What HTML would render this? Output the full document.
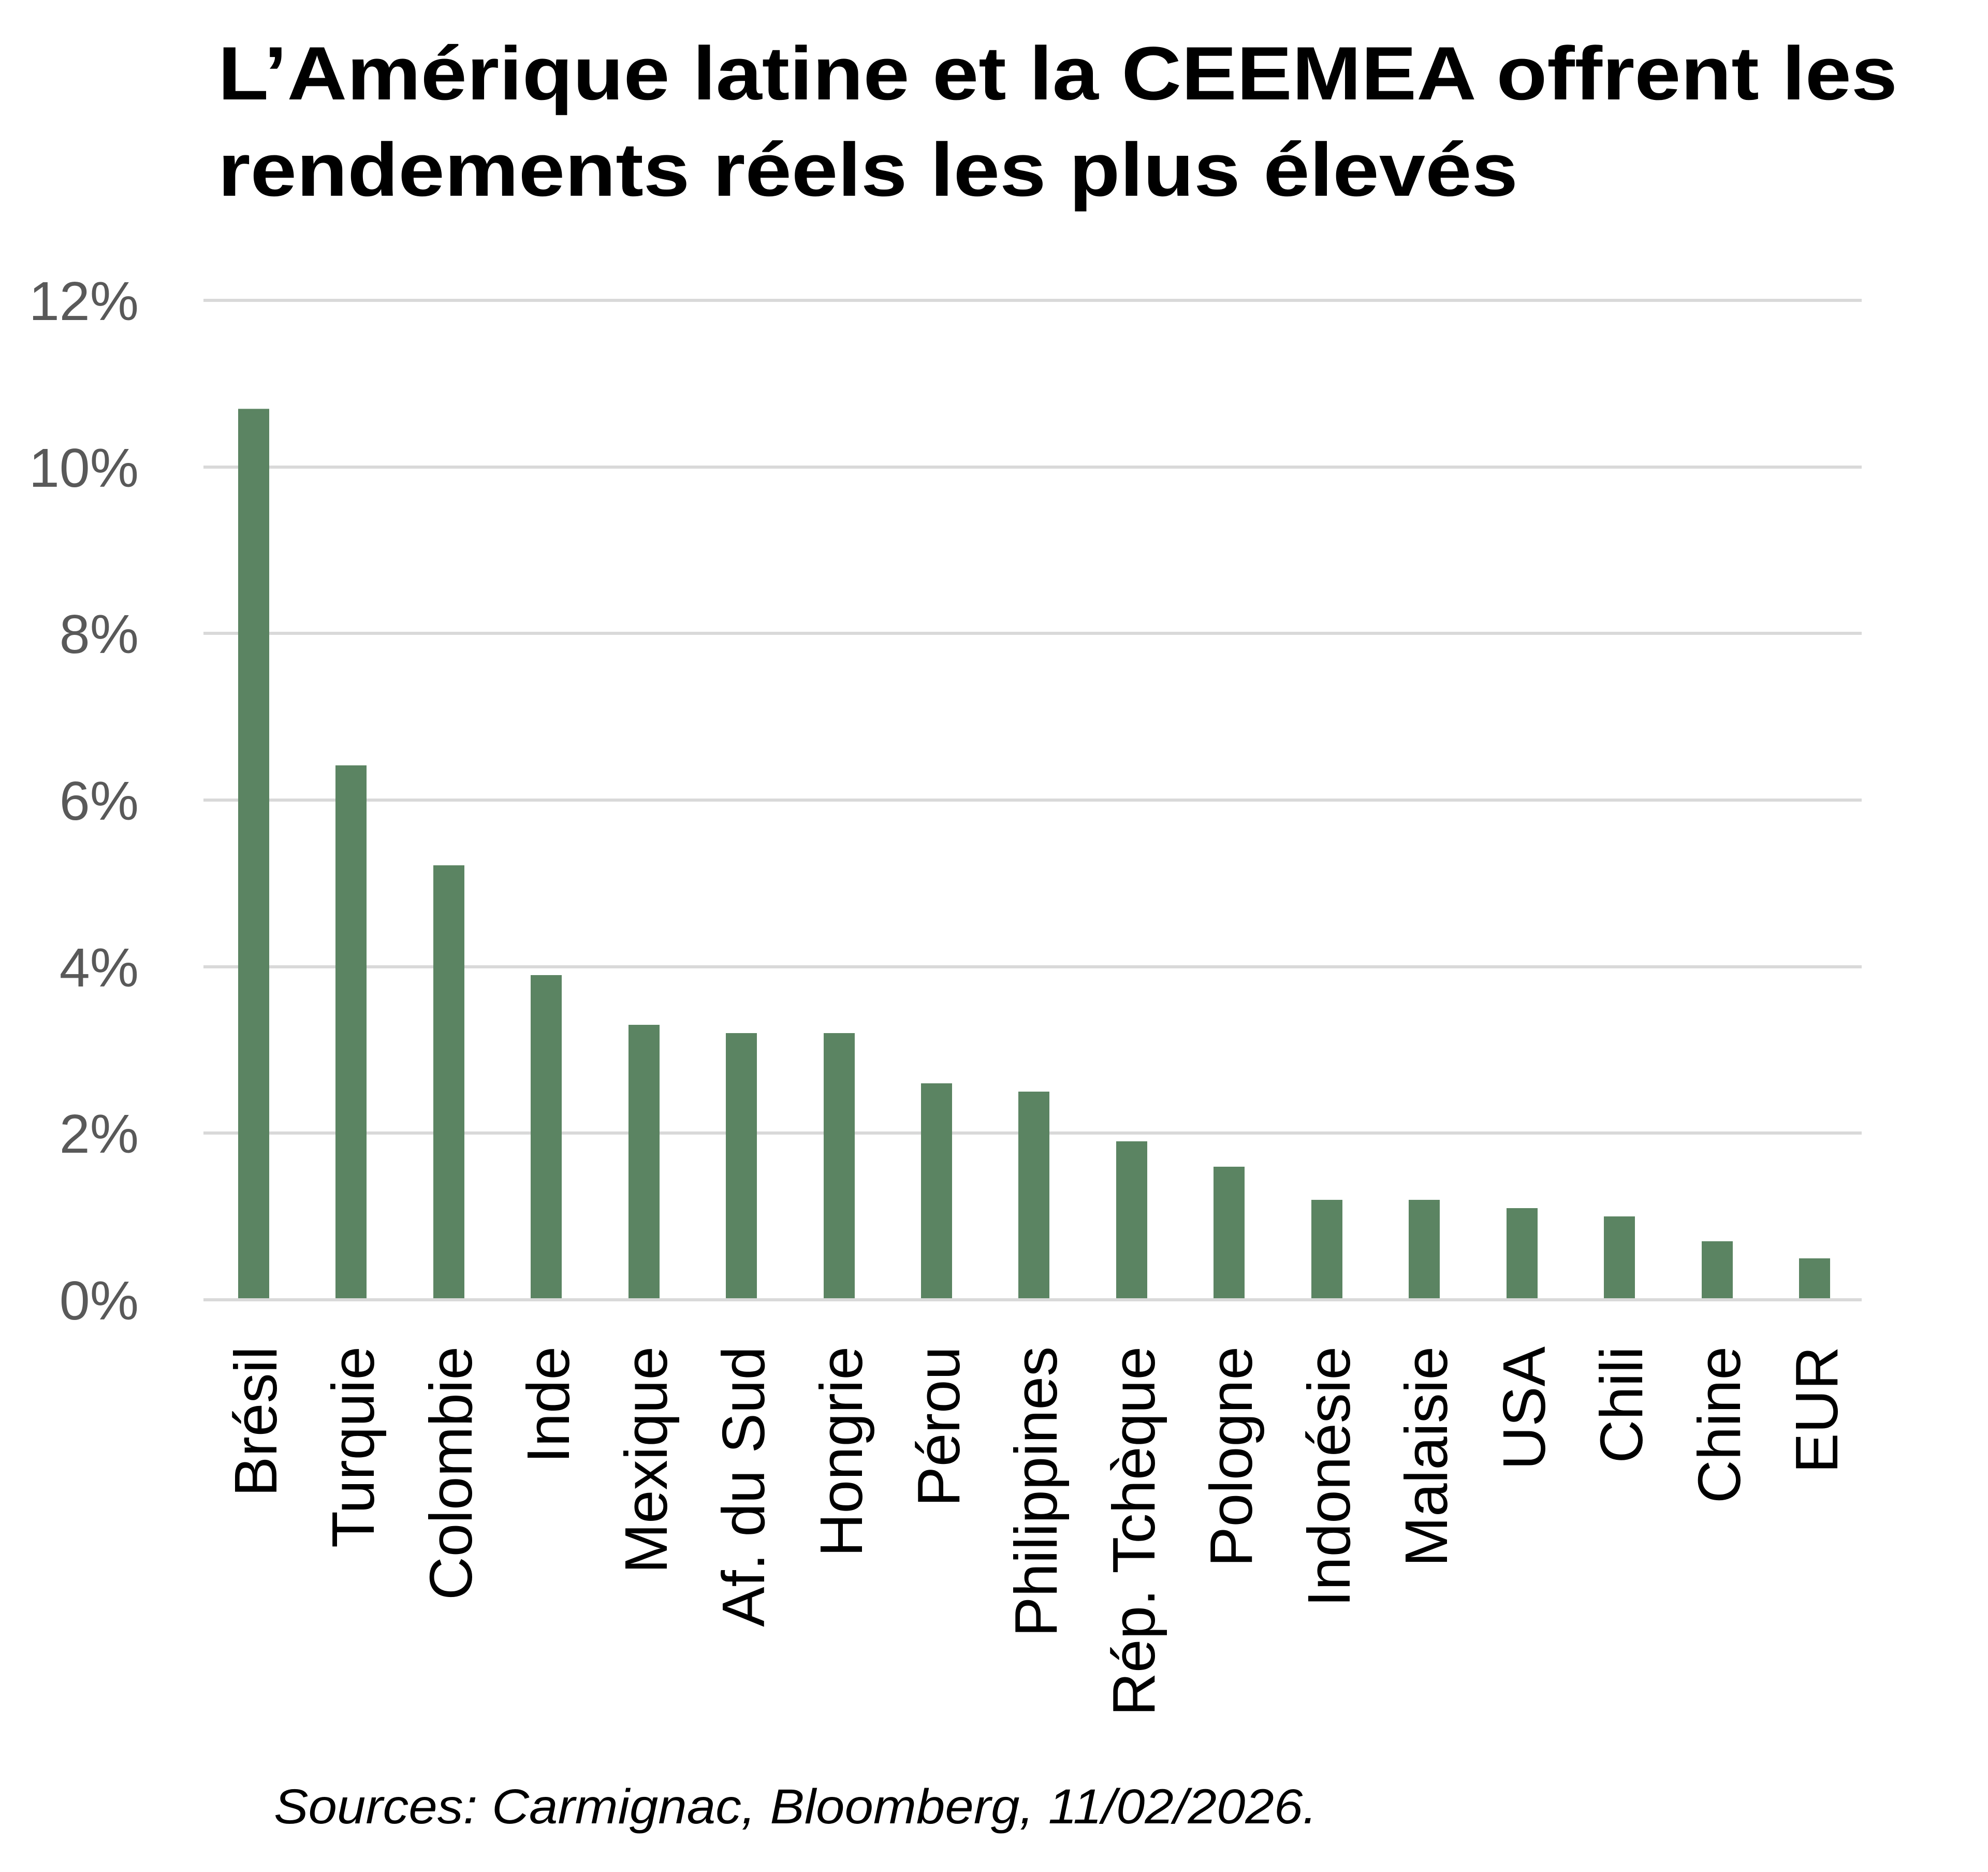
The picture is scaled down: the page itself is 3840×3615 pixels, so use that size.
<!DOCTYPE html>
<html><head><meta charset="utf-8"><style>html,body{margin:0;padding:0;background:#fff}svg{display:block}</style></head>
<body>
<svg width="3840" height="3615" viewBox="0 0 3840 3615" xmlns="http://www.w3.org/2000/svg">
<rect width="3840" height="3615" fill="#fff"/>
<g font-family="Liberation Sans, sans-serif" font-weight="bold" font-size="146" fill="#000">
<text x="421" y="192" textLength="3244" lengthAdjust="spacingAndGlyphs">L’Amérique latine et la CEEMEA offrent les</text>
<text x="421" y="378" textLength="2511" lengthAdjust="spacingAndGlyphs">rendements réels les plus élevés</text>
</g>
<g stroke="#d9d9d9" stroke-width="6">
<line x1="393" x2="3596" y1="580" y2="580"/>
<line x1="393" x2="3596" y1="902" y2="902"/>
<line x1="393" x2="3596" y1="1223" y2="1223"/>
<line x1="393" x2="3596" y1="1545" y2="1545"/>
<line x1="393" x2="3596" y1="1867" y2="1867"/>
<line x1="393" x2="3596" y1="2188" y2="2188"/>
<line x1="393" x2="3596" y1="2510" y2="2510"/>
</g>
<g font-family="Liberation Sans, sans-serif" font-size="106" fill="#595959" text-anchor="end">
<text x="268" y="618">12%</text>
<text x="268" y="940">10%</text>
<text x="268" y="1261">8%</text>
<text x="268" y="1583">6%</text>
<text x="268" y="1905">4%</text>
<text x="268" y="2226">2%</text>
<text x="268" y="2548">0%</text>
</g>
<g fill="#5b8462">
<rect x="460" y="789.5" width="60" height="1717.5"/>
<rect x="648" y="1478" width="60" height="1029"/>
<rect x="837" y="1671" width="60" height="836"/>
<rect x="1025" y="1883" width="60" height="624"/>
<rect x="1214" y="1979" width="60" height="528"/>
<rect x="1402" y="1995" width="60" height="512"/>
<rect x="1591" y="1995" width="60" height="512"/>
<rect x="1779" y="2092" width="60" height="415"/>
<rect x="1967" y="2108" width="60" height="399"/>
<rect x="2156" y="2204" width="60" height="303"/>
<rect x="2344" y="2253" width="60" height="254"/>
<rect x="2533" y="2317" width="60" height="190"/>
<rect x="2721" y="2317" width="60" height="190"/>
<rect x="2910" y="2333" width="60" height="174"/>
<rect x="3098" y="2349" width="60" height="158"/>
<rect x="3287" y="2397" width="60" height="110"/>
<rect x="3475" y="2430" width="60" height="77"/>
</g>
<g font-family="Liberation Sans, sans-serif" font-size="116" fill="#000" text-anchor="end">
<text transform="translate(534,2600) rotate(-90)">Brésil</text>
<text transform="translate(722,2600) rotate(-90)">Turquie</text>
<text transform="translate(911,2600) rotate(-90)">Colombie</text>
<text transform="translate(1099,2600) rotate(-90)">Inde</text>
<text transform="translate(1288,2600) rotate(-90)">Mexique</text>
<text transform="translate(1476,2600) rotate(-90)">Af. du Sud</text>
<text transform="translate(1665,2600) rotate(-90)">Hongrie</text>
<text transform="translate(1853,2600) rotate(-90)">Pérou</text>
<text transform="translate(2041,2600) rotate(-90)">Philippines</text>
<text transform="translate(2230,2600) rotate(-90)">Rép. Tchèque</text>
<text transform="translate(2418,2600) rotate(-90)">Pologne</text>
<text transform="translate(2607,2600) rotate(-90)">Indonésie</text>
<text transform="translate(2795,2600) rotate(-90)">Malaisie</text>
<text transform="translate(2984,2600) rotate(-90)">USA</text>
<text transform="translate(3172,2600) rotate(-90)">Chili</text>
<text transform="translate(3361,2600) rotate(-90)">Chine</text>
<text transform="translate(3549,2600) rotate(-90)">EUR</text>
</g>
<text x="529" y="3521" font-family="Liberation Sans, sans-serif" font-style="italic" font-size="95" fill="#000" textLength="2015" lengthAdjust="spacingAndGlyphs">Sources: Carmignac, Bloomberg, 11/02/2026.</text>
</svg>
</body></html>
